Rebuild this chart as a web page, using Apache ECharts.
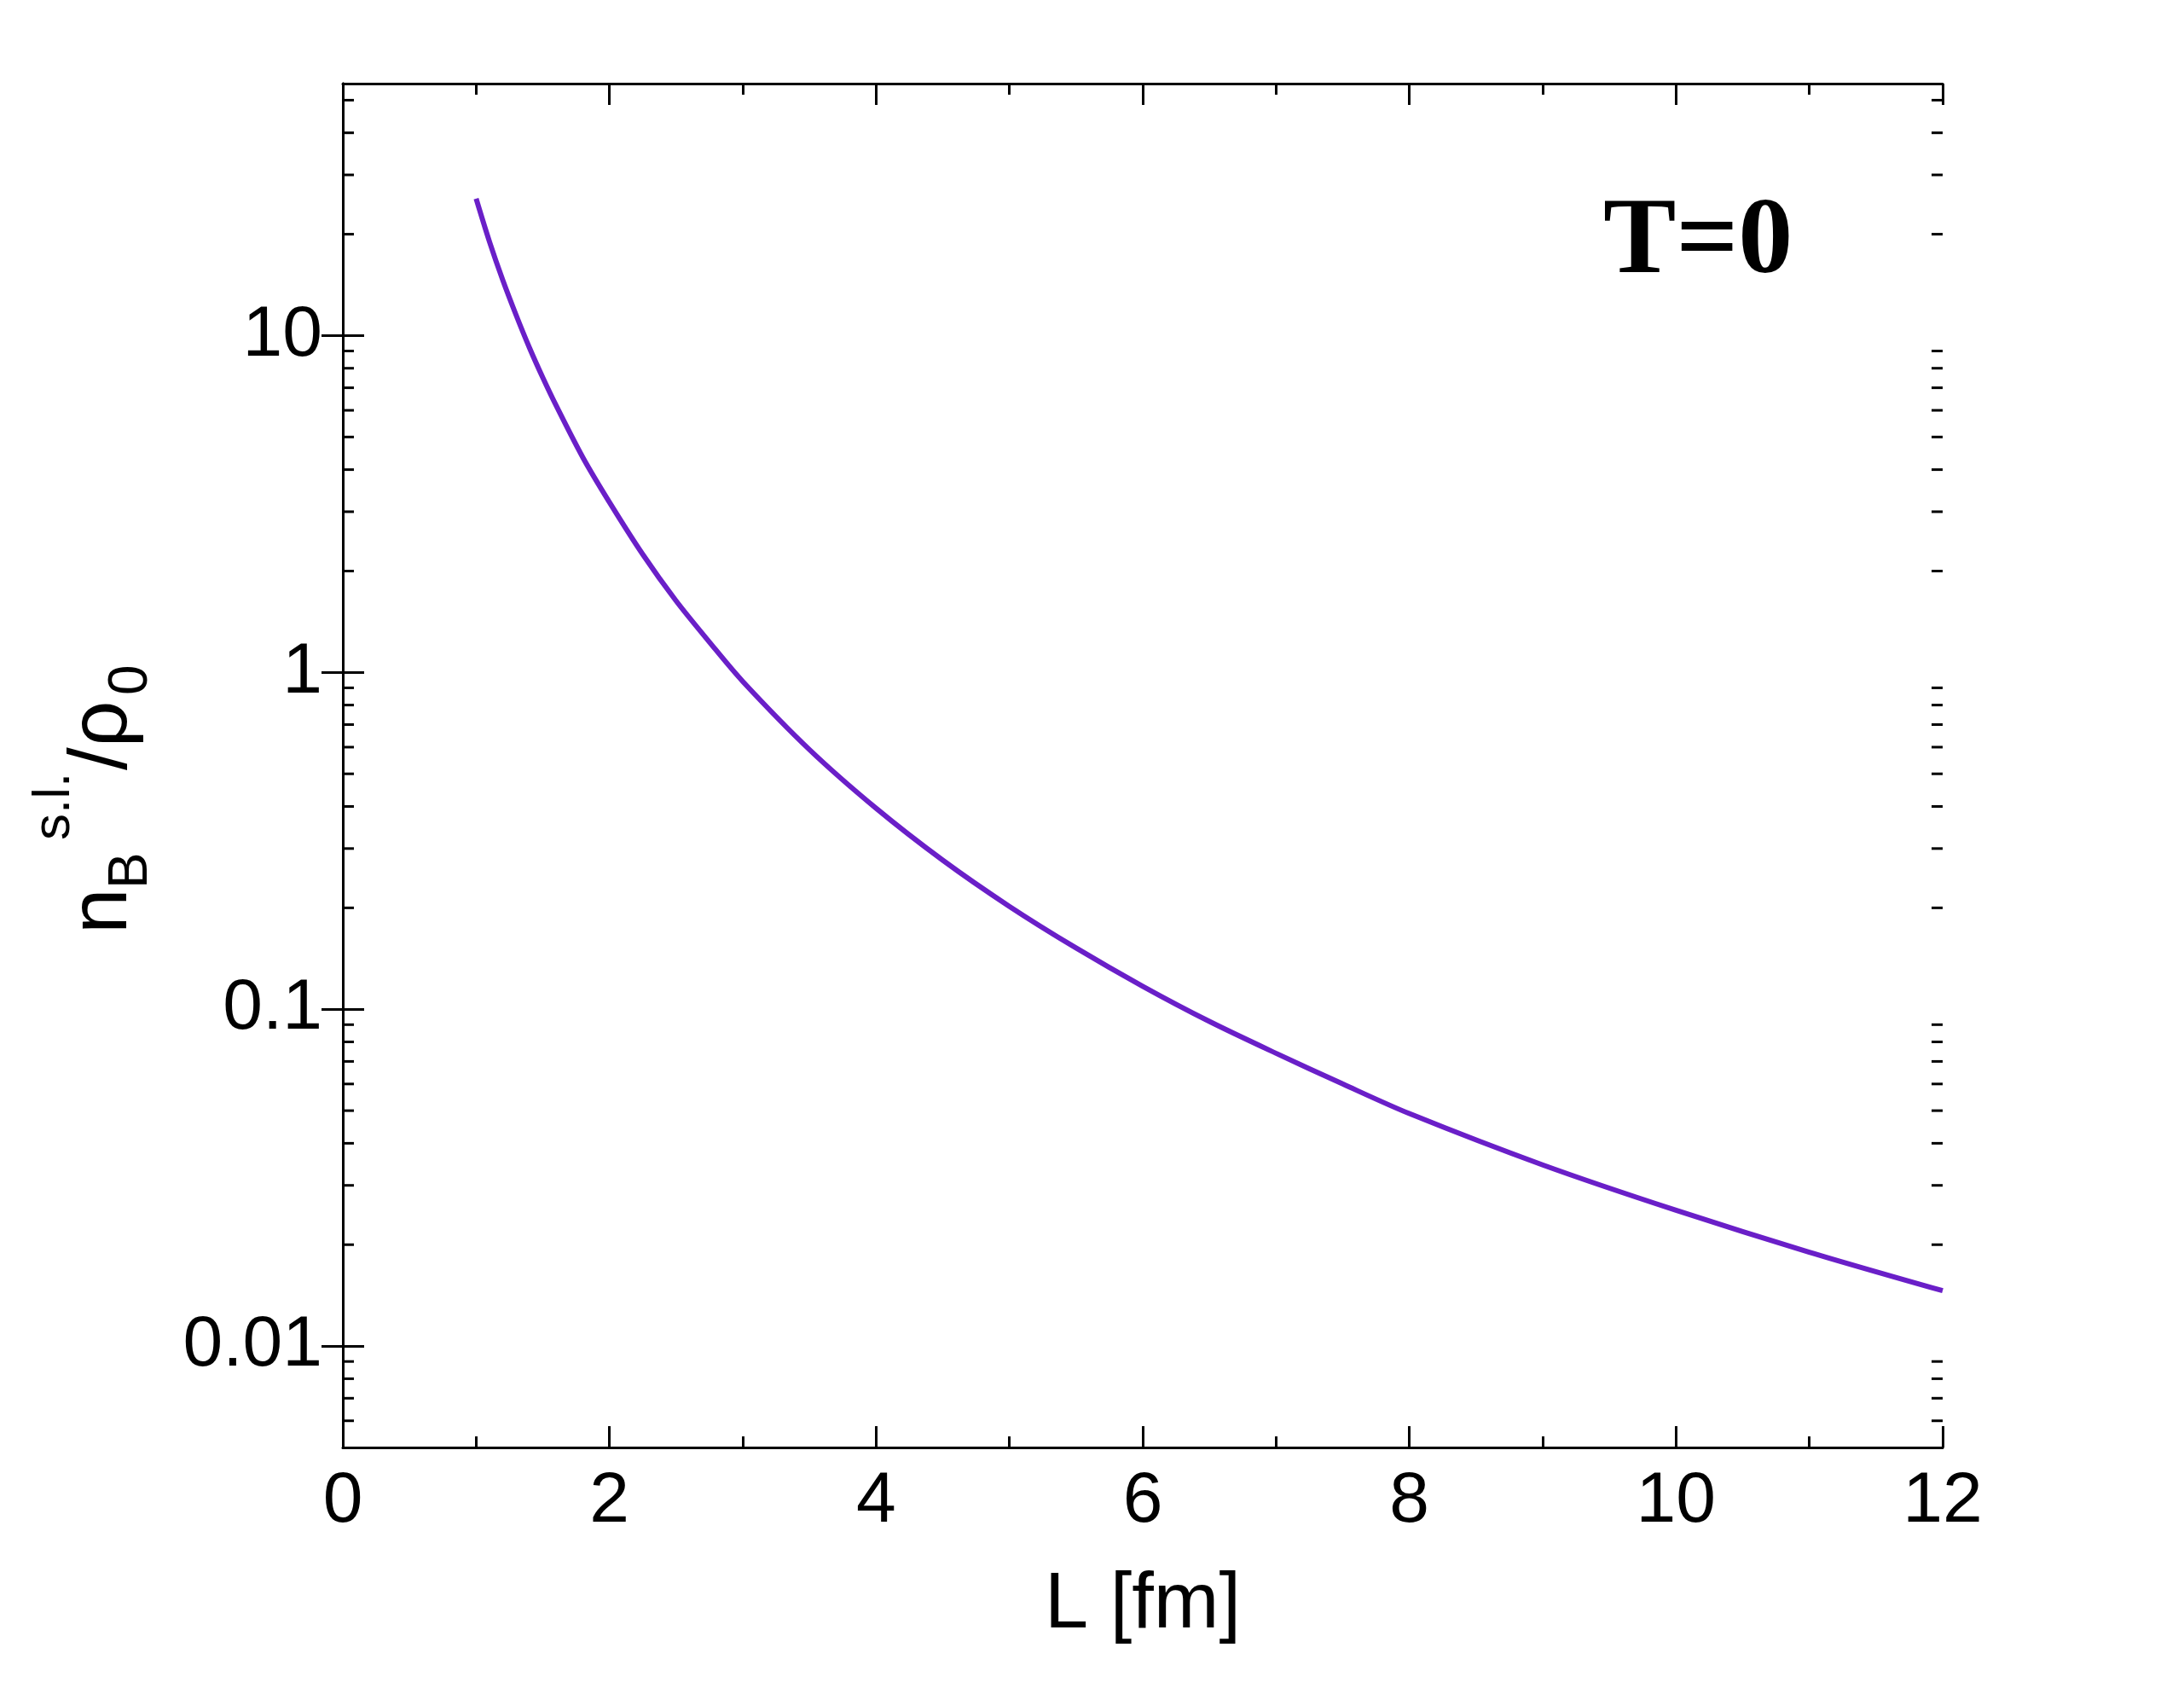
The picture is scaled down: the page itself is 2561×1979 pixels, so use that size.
<!DOCTYPE html>
<html><head><meta charset="utf-8">
<script src="https://cdn.jsdelivr.net/npm/echarts@6/dist/echarts.min.js"></script>
<style>html,body{margin:0;background:#fff}#c{width:2561px;height:1979px}</style>
</head><body><div id="c"></div>
<script>
const L = [1,1.1,1.2,1.3,1.4,1.5,1.6,1.8,2,2.25,2.5,2.75,3,3.5,4,4.5,5,5.5,6,6.5,7,7.5,8,9,10,11,12];
const nB = [25.5,19.0,14.6,11.5,9.2,7.5,6.2,4.35,3.2,2.24,1.63,1.23,0.94,0.59,0.395,0.277,0.202,0.152,0.117,0.092,0.074,0.06,0.049,0.0345,0.0253,0.019,0.0146];
const xTicks = [0,2,4,6,8,10,12];
const yMajor = [0.01,0.1,1,10];
const yMinor = [0.006,0.007,0.008,0.009,0.02,0.03,0.04,0.05,0.06,0.07,0.08,0.09,0.2,0.3,0.4,0.5,0.6,0.7,0.8,0.9,2,3,4,5,6,7,8,9,20,30,40,50];
const chart = echarts.init(document.getElementById('c'));
const ax = {color:'#000',width:3};
const tf = 'Liberation Sans, Arial, sans-serif';
const yTickCfg = {inside:true,length:25,lineStyle:ax,customValues:yMajor};
chart.setOption({
  animation:false,
  grid:{left:402,right:283,top:98,bottom:282},
  xAxis:[{type:'value',min:0,max:12,interval:2,position:'bottom',
    axisLine:{lineStyle:ax},axisTick:{inside:true,length:25,lineStyle:ax},
    minorTick:{show:true,splitNumber:2,length:13,lineStyle:ax},splitLine:{show:false},
    axisLabel:{fontSize:84,fontFamily:tf,color:'#000',margin:22,formatter:v=>xTicks.includes(v)?String(v):''},
    name:'L [fm]',nameLocation:'middle',nameGap:140,nameTextStyle:{fontSize:92,fontFamily:tf,color:'#000'}},
   {type:'value',min:0,max:12,interval:2,position:'top',
    axisLine:{lineStyle:ax},axisTick:{inside:true,length:25,lineStyle:ax},
    minorTick:{show:true,splitNumber:2,length:13,lineStyle:ax},splitLine:{show:false},axisLabel:{show:false}}],
  yAxis:[{type:'log',logBase:10,min:0.005,max:56,position:'left',
    axisLine:{lineStyle:ax},axisTick:yTickCfg,splitLine:{show:false},
    axisLabel:{fontSize:84,fontFamily:tf,color:'#000',margin:24,customValues:yMajor,formatter:v=>{for(const m of yMajor){if(Math.abs(v/m-1)<1e-6)return String(m);}return '';}}},
   {type:'log',logBase:10,min:0.005,max:56,position:'right',
    axisLine:{lineStyle:ax},axisTick:yTickCfg,splitLine:{show:false},axisLabel:{show:false,customValues:yMajor}}],
  series:[
   {type:'line',data:L.map((x,i)=>[x,nB[i]]),smooth:0.3,showSymbol:false,lineStyle:{color:'#6a1fc8',width:6}},
   {type:'custom',clip:false,data:yMinor.map(v=>[0,v]),renderItem:(p,api)=>{
     const v=api.value(1);const a=api.coord([0,v]);const b=api.coord([12,v]);
     return {type:'group',children:[
       {type:'line',shape:{x1:a[0],y1:a[1],x2:a[0]+13,y2:a[1]},style:{stroke:'#000',lineWidth:3}},
       {type:'line',shape:{x1:b[0],y1:b[1],x2:b[0]-13,y2:b[1]},style:{stroke:'#000',lineWidth:3}}]};}}
  ],
  graphic:[
   {type:'text',left:1880,top:222,style:{text:'T=0',font:'bold 128px "Liberation Serif", serif',fill:'#000'}},
   {type:'group',x:122,y:895,rotation:Math.PI/2,children:[
     {type:'text',x:-200,y:0,style:{text:'n',font:'96px '+tf,fill:'#000',verticalAlign:'middle'}},
     {type:'text',x:-147,y:32,style:{text:'B',font:'64px '+tf,fill:'#000',verticalAlign:'middle'}},
     {type:'text',x:-90,y:-58,style:{text:'s.l.',font:'62px '+tf,fill:'#000',verticalAlign:'middle'}},
     {type:'text',x:-8,y:0,style:{text:'/ρ',font:'96px '+tf,fill:'#000',verticalAlign:'middle'}},
     {type:'text',x:80,y:32,style:{text:'0',font:'64px '+tf,fill:'#000',verticalAlign:'middle'}}
   ]}
  ]
});
</script></body></html>
